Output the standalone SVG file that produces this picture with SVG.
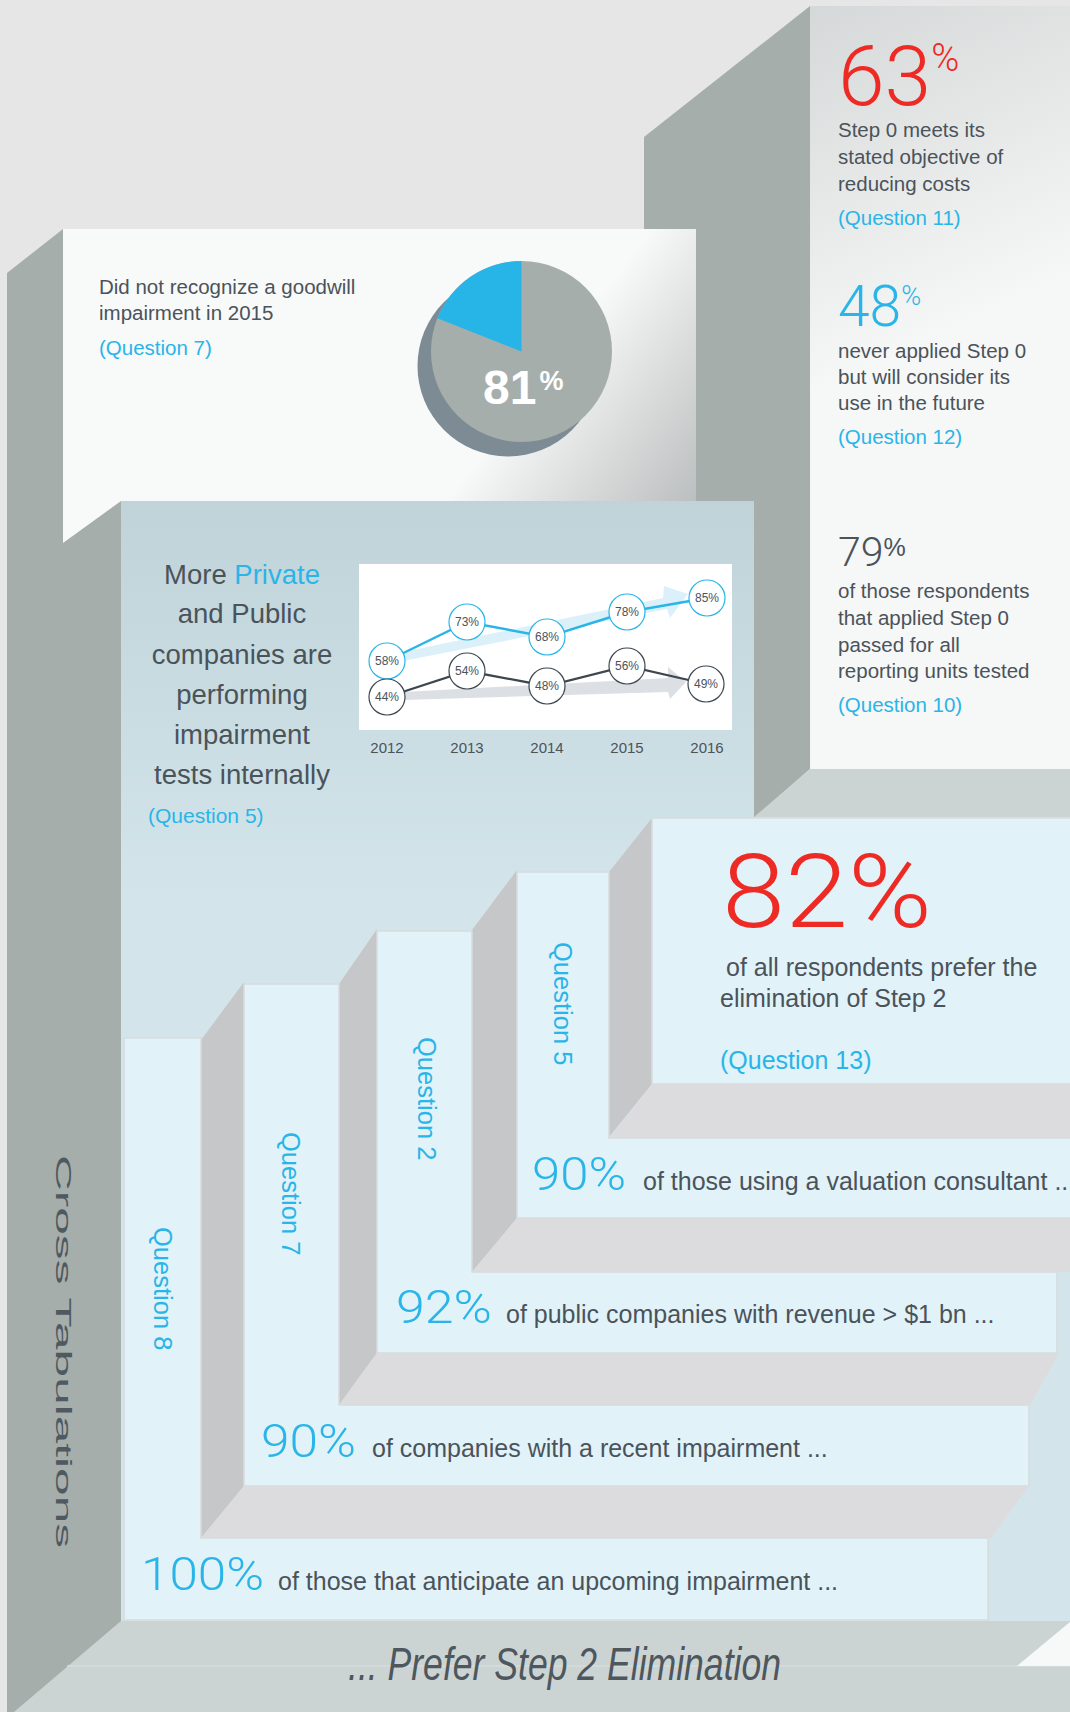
<svg xmlns="http://www.w3.org/2000/svg" width="1070" height="1712" viewBox="0 0 1070 1712">
<defs>
<linearGradient id="gTopFront" gradientUnits="userSpaceOnUse" x1="810" y1="0" x2="960" y2="330">
<stop offset="0" stop-color="#d5d8d8"/><stop offset="1" stop-color="#f6f7f7"/>
</linearGradient>
<linearGradient id="gMidFront" gradientUnits="userSpaceOnUse" x1="430" y1="300" x2="696" y2="500">
<stop offset="0.4" stop-color="#f8f9f9"/><stop offset="1" stop-color="#bcbfbf"/>
</linearGradient>
<linearGradient id="gBlueFront" gradientUnits="userSpaceOnUse" x1="0" y1="501" x2="0" y2="900">
<stop offset="0" stop-color="#bfd3d9"/><stop offset="1" stop-color="#d3e5eb"/>
</linearGradient>
<style>
.side{fill:#a6aeac}
.floor{fill:#ccd4d3}
.front{fill:#e1f2f9;stroke:#d8dcdd;stroke-width:1.5}
.riser{fill:#c6c7c9}
.tread{fill:#dcdcde}
.t{font-family:"Liberation Sans",Arial,Helvetica,sans-serif}
.dk{fill:#4b535a}
.bl{fill:#29b5e8}
.rd{fill:#ee2a24}
.lt{font-family:Roboto,"Liberation Sans",Arial,sans-serif;font-weight:300}
.body{font-size:20.5px}
.row{font-size:25px}
.q{font-size:25.5px}
.num{font-size:47px}
.yr{font-size:15px;text-anchor:middle}
.ct{font-size:12px;text-anchor:middle}
.cb{fill:#ffffff;stroke:#29b5e8;stroke-width:1.2}
.cd{fill:#ffffff;stroke:#3d4750;stroke-width:1.2}
</style>
</defs>

<rect width="1070" height="1712" fill="#e6e6e6"/>

<g id="block-top-right">
<polygon class="side" points="644,137 810,6 810,769 754,818 644,818"/>
<rect x="810" y="6" width="260" height="763" fill="url(#gTopFront)"/>
<polygon class="floor" points="754,817 810,769 1070,769 1070,817"/>
<text class="t lt rd" x="838" y="105" font-size="84">63<tspan font-size="38" dy="-34">%</tspan></text>
<text class="t dk body" x="838" y="137">Step 0 meets its</text>
<text class="t dk body" x="838" y="164">stated objective of</text>
<text class="t dk body" x="838" y="191">reducing costs</text>
<text class="t bl body" x="838" y="225">(Question 11)</text>
<text class="t lt bl" x="838" y="326" font-size="57">48<tspan font-size="27" dy="-21">%</tspan></text>
<text class="t dk body" x="838" y="358">never applied Step 0</text>
<text class="t dk body" x="838" y="384">but will consider its</text>
<text class="t dk body" x="838" y="410">use in the future</text>
<text class="t bl body" x="838" y="444">(Question 12)</text>
<text class="t lt dk" x="838" y="566" font-size="41">79<tspan class="t" font-size="25" dy="-10" font-weight="normal">%</tspan></text>
<text class="t dk body" x="838" y="598">of those respondents</text>
<text class="t dk body" x="838" y="625">that applied Step 0</text>
<text class="t dk body" x="838" y="652">passed for all</text>
<text class="t dk body" x="838" y="678">reporting units tested</text>
<text class="t bl body" x="838" y="712">(Question 10)</text>
</g>

<g id="block-goodwill">
<polygon class="side" points="7,273 63,229 63,1712 7,1712"/>
<rect x="63" y="229" width="633" height="318" fill="url(#gMidFront)"/>
<text class="t dk body" x="99" y="294">Did not recognize a goodwill</text>
<text class="t dk body" x="99" y="320">impairment in 2015</text>
<text class="t bl body" x="99" y="355">(Question 7)</text>
<g id="pie">
<circle cx="508" cy="366" r="90.5" fill="#7d8b95"/>
<circle cx="521.5" cy="351.5" r="90.5" fill="#a6aeac"/>
<path d="M521.5,351.5 L521.5,261 A90.5,90.5 0 0,0 437.3,318.2 Z" fill="#27b5e8"/>
<text class="t" x="483" y="404" font-size="48" font-weight="bold" fill="#ffffff">81<tspan font-size="27" dy="-14" dx="3">%</tspan></text>
</g>
</g>

<g id="block-internal">
<polygon class="side" points="63,543 121,501 121,1712 63,1712"/>
<polygon points="121,501 754,501 754,818 1070,818 1070,1622 121,1622" fill="url(#gBlueFront)"/>
<text class="t dk" x="242" y="584" font-size="27.5" text-anchor="middle">More <tspan class="bl">Private</tspan></text>
<text class="t dk" x="242" y="623" font-size="27.5" text-anchor="middle">and Public</text>
<text class="t dk" x="242" y="664" font-size="27.5" text-anchor="middle">companies are</text>
<text class="t dk" x="242" y="704" font-size="27.5" text-anchor="middle">performing</text>
<text class="t dk" x="242" y="744" font-size="27.5" text-anchor="middle">impairment</text>
<text class="t dk" x="242" y="784" font-size="27.5" text-anchor="middle">tests internally</text>
<text class="t bl" x="148" y="823" font-size="21">(Question 5)</text>
<g id="chart">
<rect x="359" y="564" width="373" height="166" fill="#ffffff"/>
<polygon points="403,652 663,598 664,586 688,594 670,618 667,609 403,661" fill="#dcf0fa"/>
<polygon points="403,692 668,678 668,667 686,682 670,699 668,692 403,700" fill="#dcdfe3"/>
<g id="connectors">
<polyline points="387,661 467,622 547,637 627,612 707,598" fill="none" stroke="#29b5e8" stroke-width="2.5"/>
<polyline points="387,697 467,671 547,686 627,666 706,684" fill="none" stroke="#3d4750" stroke-width="2.3"/>
</g>
<g id="points-blue">
<circle class="cb" cx="387" cy="661" r="18"/><text class="t dk ct" x="387" y="665">58%</text>
<circle class="cb" cx="467" cy="622" r="18"/><text class="t dk ct" x="467" y="626">73%</text>
<circle class="cb" cx="547" cy="637" r="18"/><text class="t dk ct" x="547" y="641">68%</text>
<circle class="cb" cx="627" cy="612" r="18"/><text class="t dk ct" x="627" y="616">78%</text>
<circle class="cb" cx="707" cy="598" r="18"/><text class="t dk ct" x="707" y="602">85%</text>
</g>
<g id="points-dark">
<circle class="cd" cx="387" cy="697" r="18"/><text class="t dk ct" x="387" y="701">44%</text>
<circle class="cd" cx="467" cy="671" r="18"/><text class="t dk ct" x="467" y="675">54%</text>
<circle class="cd" cx="547" cy="686" r="18"/><text class="t dk ct" x="547" y="690">48%</text>
<circle class="cd" cx="627" cy="666" r="18"/><text class="t dk ct" x="627" y="670">56%</text>
<circle class="cd" cx="706" cy="684" r="18"/><text class="t dk ct" x="706" y="688">49%</text>
</g>
<text class="t dk yr" x="387" y="753">2012</text>
<text class="t dk yr" x="467" y="753">2013</text>
<text class="t dk yr" x="547" y="753">2014</text>
<text class="t dk yr" x="627" y="753">2015</text>
<text class="t dk yr" x="707" y="753">2016</text>
</g>
</g>

<g id="stairs">
<polygon class="riser" points="609,872 652,818 652,1084 609,1137"/>
<rect class="front" x="652" y="818" width="420" height="266"/>
<polygon class="tread" points="652,1084 1070,1084 1070,1138 609,1138"/>

<polygon class="riser" points="472,930 517,870 517,1218 472,1272"/>
<path class="front" d="M517,872 H609 V1138 H1072 V1218 H517 Z"/>
<polygon class="tread" points="517,1218 1070,1218 1070,1272 472,1272"/>

<polygon class="riser" points="339,984 377,929 377,1353 339,1405"/>
<path class="front" d="M377,931 H472 V1272 H1057 V1353 H377 Z"/>
<polygon class="tread" points="377,1353 1059,1353 1030,1405 339,1405"/>

<polygon class="riser" points="201,1040 244,982 244,1486 201,1538"/>
<path class="front" d="M244,984 H339 V1405 H1029 V1486 H244 Z"/>
<polygon class="tread" points="244,1486 1029,1486 991,1538 201,1538"/>

<path class="front" d="M124,1038 H201 V1538 H988 V1620 H124 Z"/>
</g>

<g id="step-82">
<text class="t lt rd" x="722" y="927" font-size="102" textLength="210" lengthAdjust="spacingAndGlyphs">82%</text>
<text class="t dk row" x="726" y="976">of all respondents prefer the</text>
<text class="t dk row" x="720" y="1007">elimination of Step 2</text>
<text class="t bl row" x="720" y="1069">(Question 13)</text>
</g>
<g id="step-q5">
<text class="t bl q" transform="translate(553.5,942) rotate(90)">Question 5</text>
<text class="t lt bl num" x="532" y="1190" textLength="94" lengthAdjust="spacingAndGlyphs">90%</text>
<text class="t dk row" x="643" y="1190">of those using a valuation consultant ...</text>
</g>
<g id="step-q2">
<text class="t bl q" transform="translate(418,1037) rotate(90)">Question 2</text>
<text class="t lt bl num" x="396" y="1323" textLength="96" lengthAdjust="spacingAndGlyphs">92%</text>
<text class="t dk row" x="506" y="1323">of public companies with revenue &gt; $1 bn ...</text>
</g>
<g id="step-q7">
<text class="t bl q" transform="translate(281.5,1132) rotate(90)">Question 7</text>
<text class="t lt bl num" x="261" y="1457" textLength="95" lengthAdjust="spacingAndGlyphs">90%</text>
<text class="t dk row" x="372" y="1457">of companies with a recent impairment ...</text>
</g>
<g id="step-q8">
<text class="t bl q" transform="translate(153.5,1227) rotate(90)">Question 8</text>
<text class="t lt bl num" x="141" y="1590" textLength="123" lengthAdjust="spacingAndGlyphs">100%</text>
<text class="t dk row" x="278" y="1590">of those that anticipate an upcoming impairment ...</text>
</g>

<g id="floor">
<polygon class="floor" points="121,1621 1070,1621 1070,1712 14,1712"/>
<line x1="67" y1="1666" x2="1070" y2="1666" stroke="#d6dcdc" stroke-width="1.5"/>
<polygon points="1017,1666 1070,1622 1070,1666" fill="#f7f9f9"/>
<text class="t" x="348" y="1680" font-size="46" font-style="italic" fill="#4e575e" textLength="433" lengthAdjust="spacingAndGlyphs">... Prefer Step 2 Elimination</text>
</g>

<g id="cross-tabulations">
<text class="t" transform="translate(56,1155) rotate(90)" font-size="22" fill="#4f5960" textLength="393" lengthAdjust="spacingAndGlyphs">Cross Tabulations</text>
</g>
</svg>
